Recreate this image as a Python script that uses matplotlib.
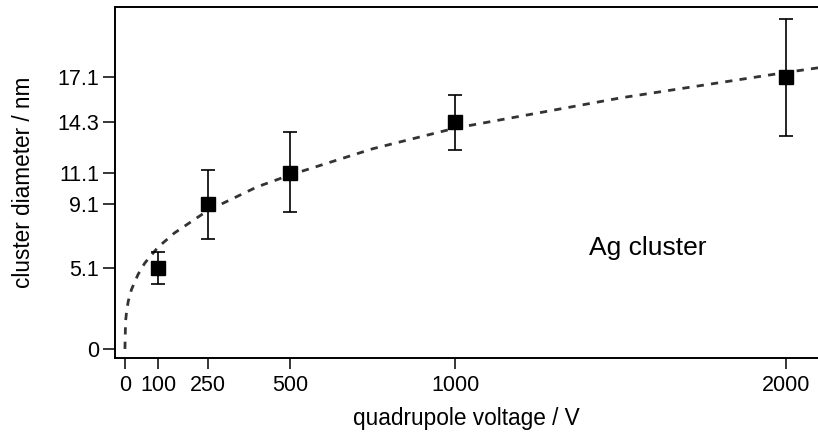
import matplotlib
matplotlib.use("Agg")
import matplotlib.pyplot as plt

# measured cluster sizes
voltage = [100, 250, 500, 1000, 2000]
diameter = [5.1, 9.1, 11.1, 14.3, 17.1]
err_low = [4.1, 6.9, 8.6, 12.5, 13.4]
err_high = [6.1, 11.25, 13.65, 16.0, 20.75]

# dashed fit curve
fit_voltage = [0, 2, 5, 10, 20, 40, 60, 100, 150, 250, 400, 500, 750, 1000, 1500, 2000, 2100]
fit_diameter = [0, 1.75, 2.35, 3.0, 3.75, 4.7, 5.4, 6.4, 7.3, 8.7, 10.2, 10.95, 12.6, 13.9, 15.8, 17.4, 17.7]

x_ticks = [0, 100, 250, 500, 1000, 2000]
y_ticks = [0, 5.1, 9.1, 11.1, 14.3, 17.1]
y_tick_labels = ["0", "5.1", "9.1", "11.1", "14.3", "17.1"]

plt.rcParams["font.family"] = ["Liberation Sans", "DejaVu Sans"]

fig = plt.figure(figsize=(8.18, 4.43), dpi=100)
ax = fig.add_axes([0.1406, 0.1919, 0.8594, 0.7934])

ax.plot(fit_voltage, fit_diameter, color="#333333", lw=2.0,
        linestyle=(0, (2.6, 2.6)), zorder=2)

yerr = [[d - lo for d, lo in zip(diameter, err_low)],
        [hi - d for d, hi in zip(diameter, err_high)]]
ax.errorbar(voltage, diameter, yerr=yerr, fmt="s", color="black",
            markersize=9.5, elinewidth=1.2, capsize=5, capthick=1.2, zorder=3)

ax.text(1405, 6.36, "Ag cluster", fontsize=19, va="center", ha="left")

ax.set_xlim(-30, 2097)
ax.set_ylim(-0.57, 21.55)
ax.set_xticks(x_ticks)
ax.set_yticks(y_ticks)
ax.set_yticklabels(y_tick_labels)
ax.tick_params(axis="both", labelsize=15.5, width=1.1, direction="out")
ax.tick_params(axis="y", length=8.5, pad=3)
ax.tick_params(axis="x", length=8, pad=4)

for side in ("left", "bottom", "top"):
    ax.spines[side].set_linewidth(1.4)
ax.spines["right"].set_visible(False)

ax.set_xlabel("quadrupole voltage / V", fontsize=16.3, labelpad=8)
ax.set_ylabel("cluster diameter / nm", fontsize=16.3, labelpad=16)

fig.savefig("out.png", dpi=100)
